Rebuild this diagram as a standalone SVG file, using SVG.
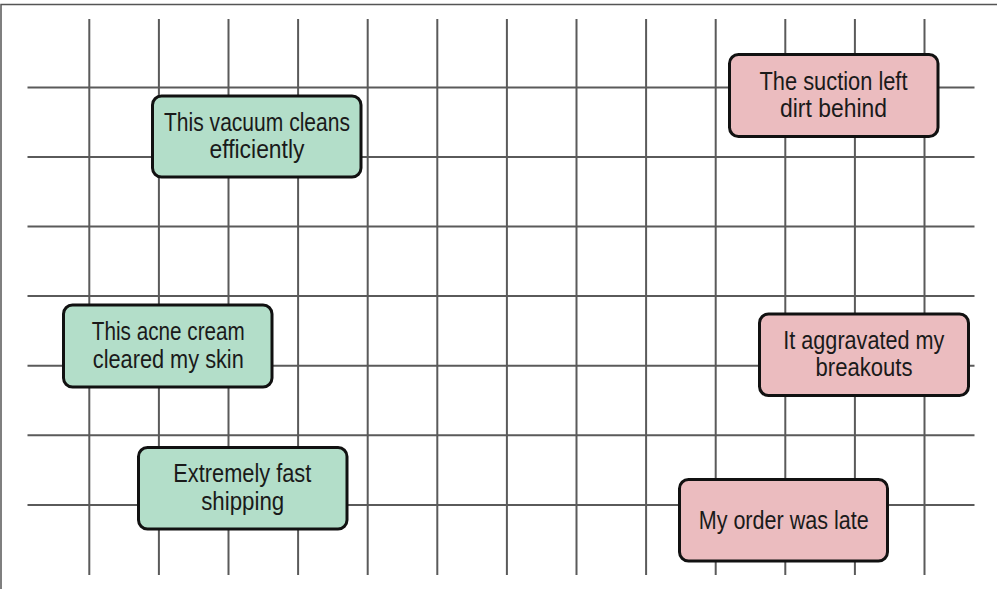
<svg xmlns="http://www.w3.org/2000/svg" width="997" height="589" viewBox="0 0 997 589">
<style>
.grid line{stroke:#5a5a5a;stroke-width:2}
.frame{stroke:#555;stroke-width:1.5;fill:none}
.pos rect{fill:#b3dec9;stroke:#111;stroke-width:3}
.neg rect{fill:#ebbcbf;stroke:#111;stroke-width:3}
text{font-family:"Liberation Sans",Arial,sans-serif;font-size:26px;fill:#1a1a1a;text-anchor:middle}
</style>
<rect width="997" height="589" fill="#fff"/>
<path class="frame" d="M1,589 V4.5 H997"/>
<g id="grid" class="grid">
<line x1="89.3" y1="19" x2="89.3" y2="575"/>
<line x1="158.9" y1="19" x2="158.9" y2="575"/>
<line x1="228.5" y1="19" x2="228.5" y2="575"/>
<line x1="298.1" y1="19" x2="298.1" y2="575"/>
<line x1="367.7" y1="19" x2="367.7" y2="575"/>
<line x1="437.3" y1="19" x2="437.3" y2="575"/>
<line x1="506.9" y1="19" x2="506.9" y2="575"/>
<line x1="576.5" y1="19" x2="576.5" y2="575"/>
<line x1="646.1" y1="19" x2="646.1" y2="575"/>
<line x1="715.7" y1="19" x2="715.7" y2="575"/>
<line x1="785.3" y1="19" x2="785.3" y2="575"/>
<line x1="854.9" y1="19" x2="854.9" y2="575"/>
<line x1="924.5" y1="19" x2="924.5" y2="575"/>
<line x1="27.5" y1="87.5" x2="974.5" y2="87.5"/>
<line x1="27.5" y1="156.9" x2="974.5" y2="156.9"/>
<line x1="27.5" y1="226.5" x2="974.5" y2="226.5"/>
<line x1="27.5" y1="296.1" x2="974.5" y2="296.1"/>
<line x1="27.5" y1="365.7" x2="974.5" y2="365.7"/>
<line x1="27.5" y1="435.3" x2="974.5" y2="435.3"/>
<line x1="27.5" y1="504.9" x2="974.5" y2="504.9"/>
</g>
<g id="connectors"></g>
<g id="vacuum" class="pos">
<rect x="152.5" y="96" width="208.5" height="81" rx="9"/>
<text x="257" y="130.5" textLength="186" lengthAdjust="spacingAndGlyphs">This vacuum cleans</text>
<text x="257" y="158" textLength="95" lengthAdjust="spacingAndGlyphs">efficiently</text>
</g>
<g id="suction" class="neg">
<rect x="729.5" y="54.5" width="208.5" height="82" rx="9"/>
<text x="833.5" y="89.5" textLength="148" lengthAdjust="spacingAndGlyphs">The suction left</text>
<text x="833.5" y="117" textLength="107" lengthAdjust="spacingAndGlyphs">dirt behind</text>
</g>
<g id="acne" class="pos">
<rect x="63.5" y="305" width="208.5" height="82" rx="9"/>
<text x="168.3" y="340.3" textLength="153" lengthAdjust="spacingAndGlyphs">This acne cream</text>
<text x="168.3" y="367.8" textLength="151" lengthAdjust="spacingAndGlyphs">cleared my skin</text>
</g>
<g id="aggravated" class="neg">
<rect x="759.5" y="314" width="209" height="81.5" rx="9"/>
<text x="863.8" y="348.7" textLength="161" lengthAdjust="spacingAndGlyphs">It aggravated my</text>
<text x="864" y="376.2" textLength="97" lengthAdjust="spacingAndGlyphs">breakouts</text>
</g>
<g id="shipping" class="pos">
<rect x="138.5" y="447.5" width="208.5" height="81.5" rx="9"/>
<text x="242.3" y="482.3" textLength="138" lengthAdjust="spacingAndGlyphs">Extremely fast</text>
<text x="242.7" y="509.8" textLength="83" lengthAdjust="spacingAndGlyphs">shipping</text>
</g>
<g id="late" class="neg">
<rect x="679.5" y="479.5" width="208" height="81.5" rx="9"/>
<text x="783.7" y="528.8" textLength="170" lengthAdjust="spacingAndGlyphs">My order was late</text>
</g>
</svg>
